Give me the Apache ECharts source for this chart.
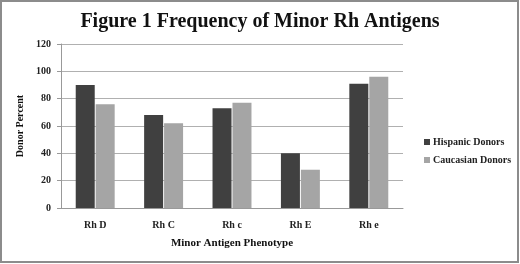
<!DOCTYPE html>
<html>
<head>
<meta charset="utf-8">
<script src="https://cdn.jsdelivr.net/npm/echarts@6/dist/echarts.min.js"></script>
<style>
  html, body { margin: 0; padding: 0; background: #fff; }
  #chart { width: 520px; height: 264px; }
</style>
</head>
<body>
<div id="chart"></div>
<script>
// data
const categories = ["Rh D", "Rh C", "Rh c", "Rh E", "Rh e"];
const hispanic = [90, 68, 73, 40, 91];
const caucasian = [76, 62, 77, 28, 96];
const seriesNames = ["Hispanic Donors", "Caucasian Donors"];

const font = "'Liberation Serif', 'DejaVu Serif', serif";
const chart = echarts.init(document.getElementById("chart"));

const option = {
  animation: false,
  color: ["#404040", "#a5a5a5"],
  textStyle: { fontFamily: font },
  graphic: [
    {
      type: "rect",
      shape: { x: 1, y: 1, width: 517, height: 261 },
      style: { fill: "none", stroke: "#8c8c8c", lineWidth: 2 },
      silent: true
    }
  ],
  title: {
    text: "Figure 1 Frequency of Minor Rh Antigens",
    left: "center",
    top: 7,
    textStyle: { fontFamily: font, fontSize: 20, fontWeight: "bold", color: "#111" }
  },
  legend: {
    orient: "vertical",
    left: 419,
    top: 132,
    itemWidth: 6,
    itemHeight: 6,
    itemGap: 8,
    icon: "rect",
    data: seriesNames,
    textStyle: { fontFamily: font, fontSize: 10, fontWeight: "bold", color: "#222", padding: [0, 0, 0, -2] }
  },
  grid: { left: 61, right: 117, top: 44, bottom: 56 },
  xAxis: {
    type: "category",
    data: categories,
    name: "Minor Antigen Phenotype",
    nameLocation: "middle",
    nameGap: 30,
    nameTextStyle: { fontFamily: font, fontSize: 11, fontWeight: "bold", color: "#111" },
    axisLine: { lineStyle: { color: "#999" } },
    axisTick: { show: false },
    axisLabel: { fontFamily: font, fontSize: 10, fontWeight: "bold", color: "#222", margin: 12 }
  },
  yAxis: {
    type: "value",
    min: 0,
    max: 120,
    interval: 20,
    name: "Donor Percent",
    nameLocation: "middle",
    nameGap: 32,
    nameTextStyle: { fontFamily: font, fontSize: 10, fontWeight: "bold", color: "#111" },
    axisLine: { show: true, lineStyle: { color: "#999" } },
    axisTick: { show: true, length: 4, lineStyle: { color: "#999" } },
    axisLabel: { fontFamily: font, fontSize: 10, fontWeight: "bold", color: "#222", margin: 10 },
    splitLine: { lineStyle: { color: "#b0b0b0" } }
  },
  series: [
    { name: seriesNames[0], type: "bar", data: hispanic, barWidth: 19, barGap: "5%" },
    { name: seriesNames[1], type: "bar", data: caucasian, barWidth: 19 }
  ]
};

chart.setOption(option);
window.addEventListener("resize", function () { chart.resize(); });
</script>
</body>
</html>
